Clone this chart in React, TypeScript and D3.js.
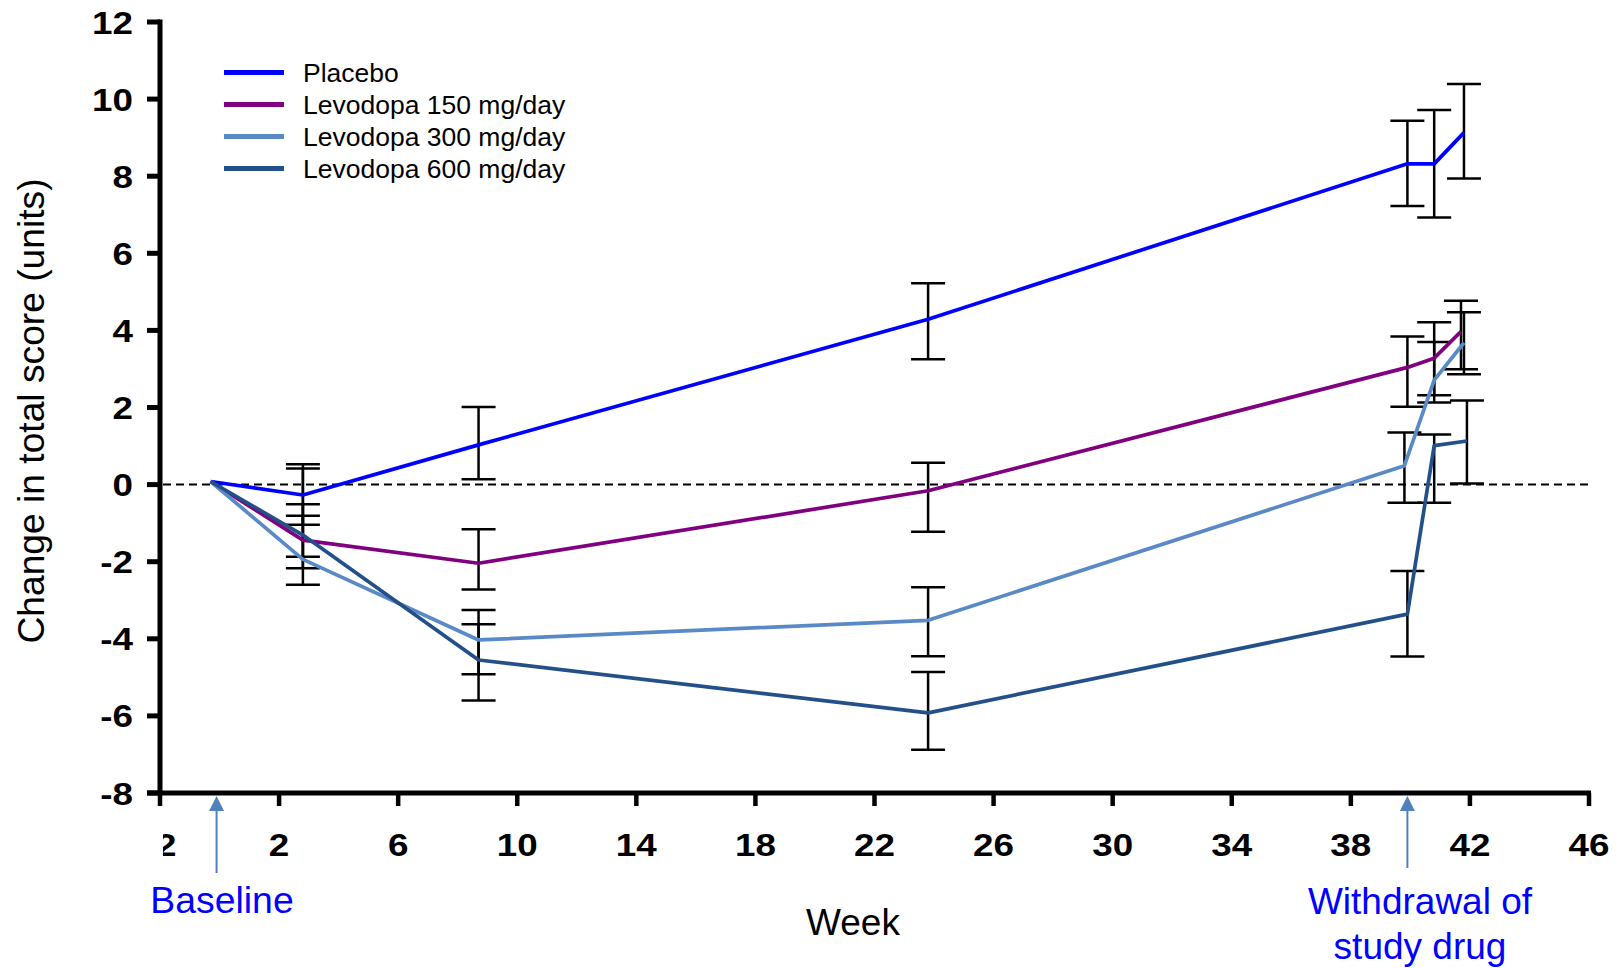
import React from "react";
import * as d3 from "d3";

const yTicks = [-8, -6, -4, -2, 0, 2, 4, 6, 8, 10, 12];
const xTicks = [-2, 2, 6, 10, 14, 18, 22, 26, 30, 34, 38, 42, 46];

const seriesNames = ["Placebo", "Levodopa 150 mg/day", "Levodopa 300 mg/day", "Levodopa 600 mg/day"];
const seriesColors = ["#0000FF", "#800080", "#5A8AC6", "#24508A"];

const weeksPlacebo = [-0.3, 2.8, 8.7, 23.8, 39.9, 40.8, 41.8];
const valPlacebo = [0.08, -0.27, 1.03, 4.29, 8.32, 8.32, 9.13];
const hiPlacebo = [null, 0.53, 2.01, 5.22, 9.44, 9.72, 10.39];
const loPlacebo = [null, -1.04, 0.14, 3.25, 7.23, 6.93, 7.94];

const weeks150 = [-0.3, 2.8, 8.7, 23.8, 39.9, 40.8, 41.7];
const val150 = [0.08, -1.44, -2.04, -0.16, 3.04, 3.28, 3.97];
const hi150 = [null, -0.51, -1.16, 0.57, 3.84, 4.21, 4.77];
const lo150 = [null, -2.17, -2.72, -1.22, 2.02, 2.32, 2.99];

const weeks300 = [-0.3, 2.8, 8.7, 23.8, 39.8, 40.8, 41.8];
const val300 = [0.08, -1.94, -4.03, -3.52, 0.49, 2.71, 3.68];
const hi300 = [null, -0.81, -3.25, -2.66, 1.35, 3.7, 4.47];
const lo300 = [null, -2.6, -4.92, -4.45, -0.47, 2.13, 2.86];

const weeks600 = [-0.3, 2.8, 8.7, 23.8, 39.9, 40.8, 41.9];
const val600 = [0.08, -1.31, -4.55, -5.92, -3.36, 1.01, 1.13];
const hi600 = [null, 0.42, -3.62, -4.86, -2.24, 1.3, 2.18];
const lo600 = [null, -1.87, -5.6, -6.88, -4.46, -0.47, 0.03];

const baselineWeek = -0.1;
const withdrawalWeek = 39.9;

const FONT = "'Liberation Sans', Arial, Helvetica, sans-serif";

export default function App() {
  const W = 1621;
  const H = 968;
  const x = d3.scaleLinear().domain([-2, 46]).range([160, 1589]);
  const y = d3.scaleLinear().domain([-8, 12]).range([793, 22]);

  const series = [
    { weeks: weeksPlacebo, vals: valPlacebo, hi: hiPlacebo, lo: loPlacebo },
    { weeks: weeks150, vals: val150, hi: hi150, lo: lo150 },
    { weeks: weeks300, vals: val300, hi: hi300, lo: lo300 },
    { weeks: weeks600, vals: val600, hi: hi600, lo: lo600 },
  ];

  const line = d3
    .line<[number, number]>()
    .x((d) => x(d[0]))
    .y((d) => y(d[1]));

  const capHalf = 17;
  const x0 = x(-2);
  const x1 = x(46);
  const yBottom = y(-8);
  const yTop = y(12);

  return (
    <svg
      width={W}
      height={H}
      style={{ position: "absolute", left: 0, top: 0, background: "#fff" }}
      fontFamily={FONT}
    >
      <defs>
        <clipPath id="firstTickClip">
          <rect x={163} y={800} width={100} height={100} />
        </clipPath>
      </defs>
      <rect x={0} y={0} width={W} height={H} fill="#fff" />

      {/* zero dashed line */}
      <line
        x1={x0 + 3}
        x2={x1}
        y1={y(0)}
        y2={y(0)}
        stroke="#000"
        strokeWidth={2}
        strokeDasharray="8,5"
      />

      {/* error bars */}
      {series.map((s, si) =>
        s.weeks.map((w, i) => {
          const hi = s.hi[i];
          const lo = s.lo[i];
          if (hi == null || lo == null) return null;
          const cx = x(w);
          return (
            <g key={`e${si}-${i}`} stroke="#000" strokeWidth={2.5}>
              <line x1={cx} x2={cx} y1={y(hi)} y2={y(lo)} />
              <line x1={cx - capHalf} x2={cx + capHalf} y1={y(hi)} y2={y(hi)} />
              <line x1={cx - capHalf} x2={cx + capHalf} y1={y(lo)} y2={y(lo)} />
            </g>
          );
        })
      )}

      {/* data lines */}
      {series.map((s, si) => (
        <path
          key={`l${si}`}
          d={line(s.weeks.map((w, i) => [w, s.vals[i]] as [number, number])) || ""}
          fill="none"
          stroke={seriesColors[si]}
          strokeWidth={3.7}
          strokeLinejoin="round"
        />
      ))}

      {/* axes */}
      <line x1={x0} x2={x0} y1={yTop - 2.5} y2={yBottom + 2.5} stroke="#000" strokeWidth={5} />
      <line x1={x0 - 13} x2={x1 + 2} y1={yBottom} y2={yBottom} stroke="#000" strokeWidth={5} />
      {yTicks.map((t) => (
        <g key={`yt${t}`}>
          <line x1={x0 - 13} x2={x0} y1={y(t)} y2={y(t)} stroke="#000" strokeWidth={5} />
          <text
            transform={`translate(133, ${y(t)}) scale(1.15, 1)`}
            dy="0.36em"
            textAnchor="end"
            fontSize={32}
            fontWeight="bold"
            fill="#000"
          >
            {t}
          </text>
        </g>
      ))}
      {xTicks.map((t, i) => (
        <g key={`xt${t}`}>
          <line x1={x(t)} x2={x(t)} y1={yBottom} y2={yBottom + 13} stroke="#000" strokeWidth={4.5} />
          <g clipPath={i === 0 ? "url(#firstTickClip)" : undefined}>
            <text
              transform={`translate(${x(t)}, 844) scale(1.15, 1)`}
              dy="0.36em"
              textAnchor="middle"
              fontSize={32}
              fontWeight="bold"
              fill="#000"
            >
              {t}
            </text>
          </g>
        </g>
      ))}

      {/* axis titles */}
      <text x={853} y={922} dy="0.36em" textAnchor="middle" fontSize={37} fill="#000">
        Week
      </text>
      <text
        transform={`translate(31, 411) rotate(-90)`}
        dy="0.36em"
        textAnchor="middle"
        fontSize={37.2}
        fill="#000"
      >
        Change in total score (units)
      </text>

      {/* annotations */}
      {[
        { w: baselineWeek, end: 873 },
        { w: withdrawalWeek, end: 868 },
      ].map((a, i) => {
        const ax = x(a.w);
        return (
          <g key={`arr${i}`} fill="#4F81BD" stroke="#4F81BD">
            <line x1={ax} x2={ax} y1={808} y2={a.end} strokeWidth={2} />
            <path d={`M${ax},${yBottom + 3} L${ax - 7.5},${yBottom + 18} L${ax + 7.5},${yBottom + 18} Z`} stroke="none" />
          </g>
        );
      })}
      <text x={222} y={900} dy="0.36em" textAnchor="middle" fontSize={37.4} fill="#0000FF">
        Baseline
      </text>
      <text x={1420} y={901} dy="0.36em" textAnchor="middle" fontSize={37} fill="#0000FF">
        Withdrawal of
      </text>
      <text x={1420} y={946} dy="0.36em" textAnchor="middle" fontSize={37} fill="#0000FF">
        study drug
      </text>

      {/* legend */}
      {seriesNames.map((n, i) => {
        const ly = 72.5 + i * 32;
        return (
          <g key={`lg${i}`}>
            <line x1={224} x2={284} y1={ly} y2={ly} stroke={seriesColors[i]} strokeWidth={5} />
            <text x={303} y={ly} dy="0.36em" fontSize={26.5} fill="#000">
              {n}
            </text>
          </g>
        );
      })}
    </svg>
  );
}
